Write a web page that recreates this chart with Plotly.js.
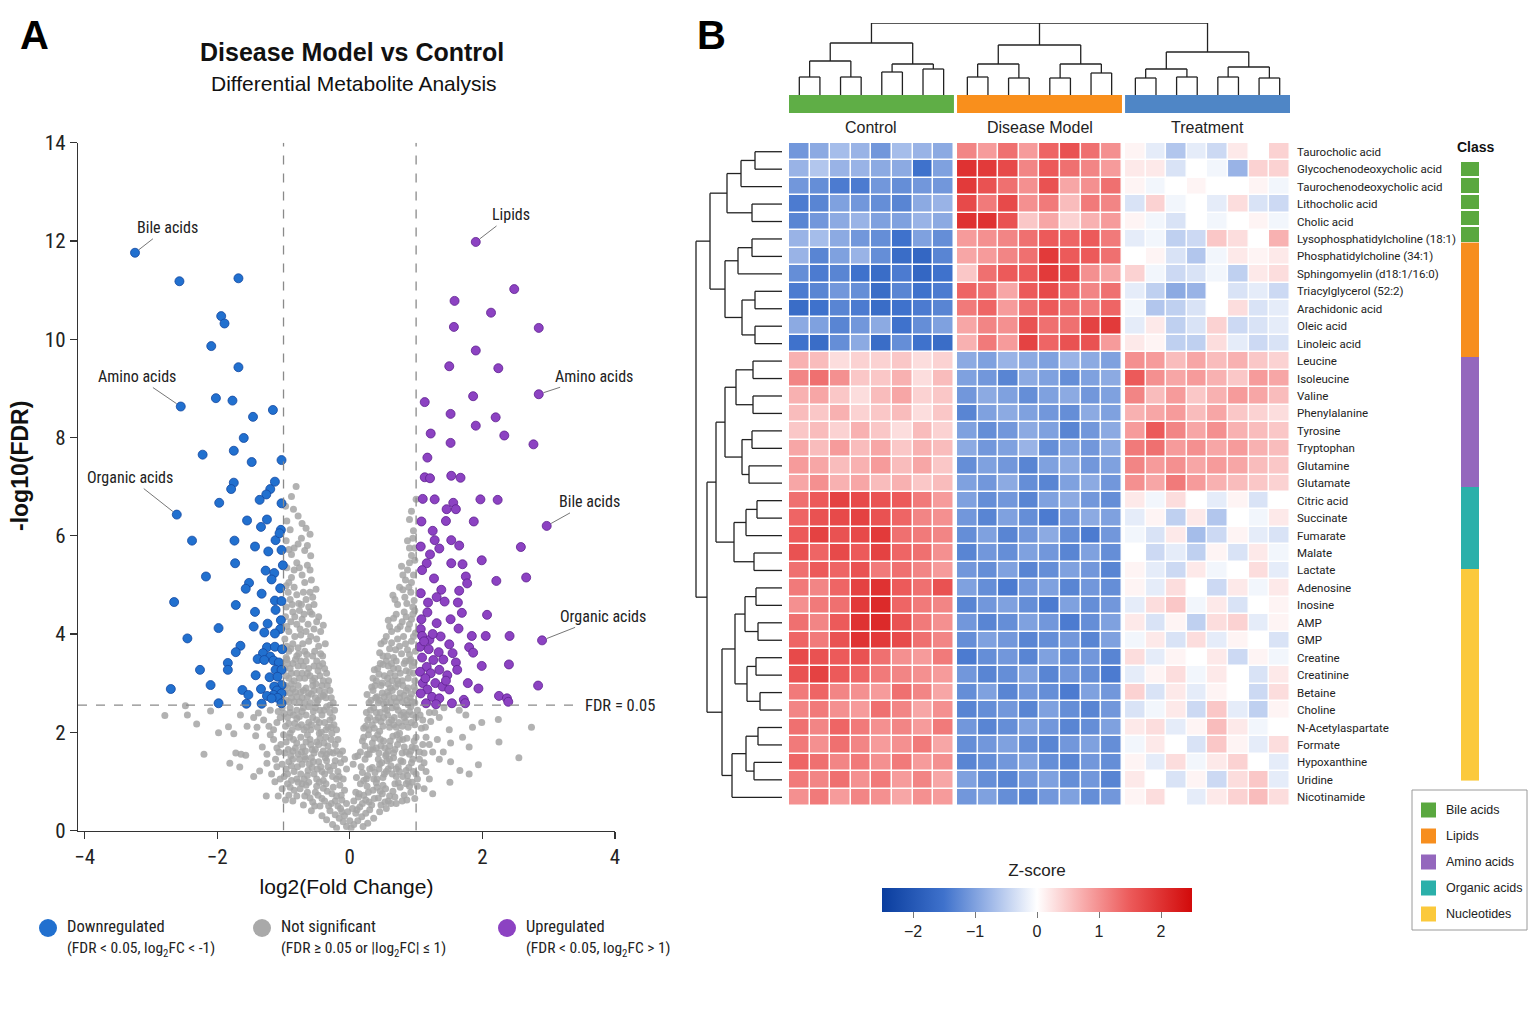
<!DOCTYPE html>
<html><head><meta charset="utf-8">
<script src="https://cdn.plot.ly/plotly-3.0.1.min.js"></script>
<style>html,body{margin:0;padding:0;background:#fff}#chart{width:1536px;height:1024px}</style>
</head><body><div id="chart"></div>
<script>
// ---------------- DATA: volcano ----------------
const downPts = [[-3.24,11.76],[-2.57,11.18],[-1.68,11.24],[-1.94,10.47],[-1.89,10.32],[-2.09,9.86],[-1.68,9.43],[-2.55,8.63],[-2.02,8.80],[-1.77,8.75],[-1.16,8.56],[-1.46,8.42],[-1.60,7.99],[-1.75,7.73],
[-2.22,7.65],[-1.48,7.50],[-1.03,7.54],[-1.13,7.10],[-1.75,7.08],[-1.79,6.95],[-1.20,6.95],[-1.26,6.84],[-1.36,6.73],[-1.97,6.67],[-1.03,6.66],[-2.61,6.43],[-1.55,6.31],[-1.25,6.33],[-1.34,6.18],[-1.04,6.12],
[-2.38,5.90],[-1.74,5.90],[-1.12,5.91],[-1.06,6.05],[-1.43,5.78],[-1.23,5.68],[-1.03,5.71],[-1.73,5.44],[-1.01,5.40],[-1.27,5.29],[-1.14,5.24],[-2.17,5.17],[-1.52,5.04],[-1.57,4.92],[-1.18,5.11],[-1.05,4.93],
[-1.33,4.82],[-2.65,4.65],[-1.72,4.59],[-1.13,4.68],[-1.03,4.67],[-1.43,4.45],[-1.12,4.49],[-1.04,4.28],[-1.24,4.21],[-1.98,4.12],[-1.45,4.15],[-1.05,4.10],[-1.29,4.03],[-1.13,4.01],[-2.45,3.91],[-1.65,3.76],
[-1.25,3.73],[-1.13,3.74],[-1.02,3.69],[-1.72,3.63],[-1.31,3.61],[-1.20,3.54],[-1.39,3.49],[-1.29,3.47],[-1.15,3.46],[-1.84,3.41],[-1.07,3.42],[-1.84,3.27],[-2.26,3.27],[-1.12,3.27],[-1.03,3.27],[-1.42,3.16],
[-1.21,3.12],[-1.09,3.13],[-2.10,2.96],[-1.03,2.96],[-1.14,2.93],[-2.70,2.88],[-1.62,2.86],[-1.34,2.88],[-1.10,2.85],[-1.15,2.76],[-1.03,2.79],[-1.53,2.76],[-1.25,2.74],[-1.09,2.70],[-1.98,2.59],[-1.56,2.58],
[-1.33,2.58],[-1.03,2.59],[-1.18,2.69]];
const upPts = [[1.90,11.98],[2.48,11.02],[1.58,10.78],[2.13,10.54],[1.57,10.25],[2.85,10.23],[1.90,9.77],[1.50,9.45],[2.24,9.41],[2.85,8.88],[1.86,8.84],[1.13,8.72],[1.52,8.48],[2.20,8.41],[1.90,8.24],[1.22,8.08],
[2.33,8.04],[1.52,7.89],[2.77,7.86],[1.17,7.59],[1.13,7.19],[1.21,7.17],[1.53,7.22],[1.67,7.18],[1.10,6.75],[1.28,6.74],[1.56,6.67],[1.97,6.74],[2.23,6.73],[1.46,6.54],[1.60,6.54],[2.97,6.20],[1.08,6.29],
[1.45,6.30],[1.87,6.29],[1.25,6.10],[2.58,5.77],[1.07,5.78],[1.28,5.91],[1.35,5.74],[1.53,5.91],[1.65,5.80],[1.21,5.62],[1.99,5.50],[1.53,5.44],[1.70,5.42],[1.16,5.44],[1.09,5.30],[2.66,5.15],[1.75,5.17],
[1.27,5.13],[2.21,5.08],[1.77,5.03],[1.38,4.90],[1.65,4.88],[1.07,4.83],[1.31,4.75],[1.18,4.64],[1.43,4.66],[1.63,4.64],[2.07,4.39],[1.69,4.43],[1.17,4.44],[1.08,4.30],[1.52,4.30],[1.31,4.22],[1.64,4.11],
[1.07,4.10],[2.90,3.87],[1.84,3.96],[2.05,3.96],[2.41,3.96],[1.37,3.95],[1.09,3.96],[1.20,3.88],[1.50,3.79],[1.80,3.73],[1.06,3.74],[1.19,3.69],[1.34,3.63],[1.55,3.61],[1.86,3.62],[1.09,3.52],[1.26,3.47],
[1.41,3.48],[1.60,3.42],[1.99,3.35],[2.40,3.38],[1.16,3.33],[1.35,3.27],[1.62,3.27],[1.06,3.23],[1.22,3.20],[1.47,3.16],[2.84,2.95],[1.78,3.00],[1.94,2.89],[1.10,3.00],[1.29,3.00],[1.40,2.93],[1.17,2.87],
[1.50,2.87],[1.07,2.79],[2.25,2.74],[2.37,2.69],[2.39,2.62],[1.24,2.72],[1.35,2.69],[1.72,2.66],[1.74,2.59],[1.54,2.59],[1.15,2.59],[1.30,2.57],[1.12,3.85],[1.25,4.00],[1.14,3.10],[1.45,3.05]];
const notSigPts = [
[-0.05,0.08],[0.02,0.05],[0.06,0.12],[-0.1,0.18],[0.12,0.2],[-0.16,0.25],[0.18,0.28],[-0.22,0.32],[0.24,0.35],[-0.3,0.4],[0.3,0.42],[-0.08,0.3],[0.09,0.35],[-0.14,0.45],[0.15,0.48],[-0.35,0.22],[0.36,0.25],[-0.42,0.3],[0.45,0.38],[-0.26,0.12],[0.27,0.15],[-0.58,0.4],[0.55,0.45],[-0.2,0.05],[0.2,0.08],[0,0.2],[-0.03,0.38],[0.04,0.45],
[-0.05,0.55],[0.06,0.6],[-0.12,0.62],[0.13,0.68],[-0.2,0.7],[0.21,0.72],[-0.28,0.55],[0.29,0.58],[-0.34,0.8],[0.35,0.82],[-0.42,0.65],[0.43,0.66],[-0.5,0.9],[0.5,0.92],[-0.56,0.58],[0.58,0.6],[-0.64,0.78],[0.65,0.8],[-0.72,0.95],[0.73,0.97],[-0.8,0.7],[0.82,0.72],[-0.9,0.88],[0.9,0.9],[-1.08,0.7],[-1.26,0.7],[1.12,0.85],[1.51,0.98],[-0.15,0.92],[0.16,0.95],[-0.25,0.88],[0.26,0.9],[-0.38,0.6],[0.4,0.97],[-0.46,0.98],[0.47,0.52],[-0.62,0.98],[0.62,0.55],[-0.08,0.82],[0.09,0.78],[-0.97,0.62],[0.98,0.65],[-1.13,0.99],[1.25,0.75],
[-0.1,1.05],[0.1,1.08],[-0.18,1.2],[0.19,1.18],[-0.26,1.1],[0.27,1.12],[-0.33,1.3],[0.34,1.28],[-0.4,1.02],[0.41,1.05],[-0.47,1.4],[0.48,1.38],[-0.54,1.15],[0.55,1.2],[-0.61,1.35],[0.62,1.32],[-0.69,1.05],[0.7,1.1],[-0.76,1.45],[0.77,1.42],[-0.84,1.2],[0.85,1.22],[-0.92,1.4],[0.93,1.38],[-0.99,1.1],[1.0,1.15],[-1.1,1.3],[1.08,1.28],[-1.25,1.37],[1.2,1.05],[-1.36,1.21],[1.35,1.45],[-1.45,1.1],[1.52,1.4],[-1.66,1.29],[1.66,1.22],[-1.81,1.37],[1.8,1.15],[1.94,1.34],[-0.22,1.42],[0.23,1.45],[-0.37,1.48],[0.44,1.25],[-0.58,1.48],[0.66,1.48],[-0.88,1.02],[0.88,1.0],[-0.05,1.25],[0.05,1.35],[-0.14,1.38],
[-0.15,1.55],[0.16,1.6],[-0.22,1.75],[0.23,1.72],[-0.3,1.6],[0.31,1.65],[-0.36,1.9],[0.37,1.88],[-0.43,1.55],[0.44,1.58],[-0.5,1.8],[0.51,1.82],[-0.57,1.65],[0.58,1.62],[-0.64,1.95],[0.65,1.92],[-0.71,1.7],[0.72,1.75],[-0.78,1.55],[0.79,1.58],[-0.85,1.85],[0.86,1.88],[-0.93,1.65],[0.94,1.7],[-1.0,1.95],[1.0,1.9],[-1.07,1.6],[1.1,1.75],[-1.25,1.55],[1.25,1.6],[-1.42,1.93],[1.41,1.6],[-1.57,1.53],[1.52,1.78],[-1.64,1.55],[1.7,1.9],[-1.72,1.58],[1.8,1.7],[-1.75,1.97],[2.25,1.8],[-1.98,1.99],[-2.2,1.55],[2.55,1.48],[-0.27,1.98],[0.28,1.95],[-0.46,1.98],[0.54,1.52],[-0.68,1.5],[0.75,1.98],[-0.9,1.98],[0.12,1.52],[-0.11,1.62],
[-0.2,2.05],[0.21,2.08],[-0.26,2.3],[0.27,2.25],[-0.33,2.1],[0.34,2.15],[-0.39,2.45],[0.4,2.4],[-0.46,2.2],[0.47,2.22],[-0.52,2.5],[0.53,2.48],[-0.59,2.05],[0.6,2.1],[-0.66,2.35],[0.67,2.3],[-0.73,2.15],[0.74,2.2],[-0.8,2.45],[0.81,2.4],[-0.87,2.05],[0.88,2.1],[-0.94,2.3],[0.95,2.35],[-1.02,2.5],[1.02,2.45],[-1.1,2.2],[1.1,2.25],[-1.2,2.45],[1.2,2.4],[-1.38,2.39],[1.35,2.3],[-1.4,2.1],[1.5,2.05],[-1.55,2.12],[1.65,2.45],[-1.83,2.11],[1.85,2.1],[-2.1,2.43],[1.99,2.2],[-2.31,2.17],[2.24,2.26],[-2.45,2.35],[2.74,2.1],[-2.48,2.54],[-2.79,2.34],[1.75,2.35],[-1.65,2.35],[-0.56,2.3],[0.57,2.35],[-0.7,2.5],[0.7,2.52],[-0.9,2.5],[0.92,2.52],[-0.3,2.4],[0.31,2.45],[-0.43,2.0],[0.45,2.02],
[-0.25,2.6],[0.26,2.77],[-0.3,2.85],[0.32,2.65],[-0.36,2.7],[0.38,2.95],[-0.42,2.95],[0.43,2.6],[-0.48,2.65],[0.49,2.8],[-0.54,2.85],[0.55,2.62],[-0.6,2.6],[0.61,2.9],[-0.66,2.9],[0.67,2.7],[-0.72,2.7],[0.73,2.98],[-0.78,2.95],[0.79,2.62],[-0.84,2.62],[0.85,2.85],[-0.9,2.8],[0.91,2.7],[-0.96,2.65],[0.97,2.92],[-0.97,2.95],[0.98,2.6],[-0.51,2.98],[0.58,2.98],[-0.88,2.98],[0.88,2.56],
[-0.32,3.05],[0.37,3.27],[-0.38,3.3],[0.4,3.05],[-0.45,3.15],[0.46,3.4],[-0.5,3.45],[0.52,3.15],[-0.56,3.05],[0.58,3.35],[-0.62,3.3],[0.64,3.05],[-0.68,3.1],[0.7,3.45],[-0.74,3.45],[0.76,3.2],[-0.8,3.2],[0.82,3.4],[-0.86,3.4],[0.88,3.1],[-0.92,3.1],[0.94,3.35],[-0.98,3.3],[0.98,3.05],[-0.95,3.48],[0.92,3.48],[-0.7,3.35],[0.66,3.3],
[-0.37,3.8],[0.47,3.8],[-0.44,3.6],[0.5,3.55],[-0.5,3.9],[0.55,3.95],[-0.56,3.55],[0.6,3.7],[-0.62,3.85],[0.66,3.52],[-0.68,3.65],[0.72,3.9],[-0.74,3.98],[0.78,3.6],[-0.8,3.55],[0.84,3.8],[-0.86,3.8],[0.9,3.58],[-0.92,3.65],[0.96,3.95],[-0.98,3.9],[0.99,3.65],[-0.96,3.52],[-0.78,3.72],
[-0.4,4.18],[0.58,4.28],[-0.47,4.35],[0.63,4.05],[-0.54,4.1],[0.7,4.4],[-0.6,4.45],[0.76,4.15],[-0.66,4.05],[0.82,4.45],[-0.72,4.3],[0.88,4.1],[-0.8,4.2],[0.93,4.3],[-0.86,4.45],[0.98,4.48],[-0.92,4.05],[-0.97,4.35],[0.99,4.02],[-0.76,4.48],
[-0.51,4.91],[0.65,4.79],[-0.56,4.75],[0.72,4.6],[-0.62,4.55],[0.8,4.9],[-0.7,4.85],[0.86,4.62],[-0.77,4.62],[0.92,4.85],[-0.84,4.95],[0.97,4.68],[-0.9,4.7],[-0.96,4.55],[-0.96,4.98],
[-0.58,5.1],[0.78,5.38],[-0.64,5.4],[0.84,5.1],[-0.72,5.2],[0.9,5.45],[-0.8,5.45],[0.96,5.2],[-0.88,5.15],[-0.95,5.35],[0.98,5.5],
[-0.59,5.59],[0.87,5.9],[-0.78,5.83],[0.93,5.6],[-0.68,5.7],[-0.88,5.62],[-0.96,5.9],[0.98,5.75],
[-0.6,6.03],[0.9,6.33],[-0.85,6.54],[1.0,6.74],[-0.81,7.0],[-0.72,6.25],[-0.95,6.3],[0.96,6.1],
[-0.32,0.5],[0.33,0.52],[-0.48,0.72],[0.49,0.75],[-0.6,0.66],[0.6,0.7],[-0.7,0.52],[0.7,0.55],[-0.75,0.85],[0.76,0.88],[-0.86,0.6],[0.86,0.62],[-0.94,0.95],[0.94,0.98],[-0.18,0.5],[0.19,0.55],[-0.4,0.86],[0.41,0.88],[-0.53,0.5],[0.53,0.58],[-0.66,0.92],[0.68,0.95],[-0.22,0.6],[0.24,0.62],[-0.12,0.38],[0.11,0.42],
[-0.2,1.05],[0.21,1.02],[-0.3,1.22],[0.3,1.25],[-0.38,1.15],[0.38,1.18],[-0.44,1.3],[0.45,1.35],[-0.5,1.05],[0.5,1.08],[-0.57,1.28],[0.58,1.25],[-0.64,1.12],[0.64,1.15],[-0.72,1.35],[0.73,1.3],[-0.8,1.05],[0.8,1.1],[-0.88,1.32],[0.89,1.28],[-0.96,1.25],[0.96,1.2],[-1.05,1.05],[1.05,1.45],[-1.18,1.15],[1.15,1.2],[-0.25,1.58],[0.26,1.55],[-0.33,1.72],[0.34,1.78],[-0.4,1.62],[0.4,1.68],[-0.47,1.75],[0.47,1.72],[-0.54,1.58],[0.55,1.55],[-0.6,1.85],[0.61,1.82],[-0.67,1.62],[0.68,1.65],[-0.74,1.9],[0.75,1.85],[-0.82,1.68],[0.82,1.7],[-0.89,1.52],[0.9,1.55],[-0.96,1.8],[0.97,1.82],[-1.04,1.75],[1.05,1.6],[-1.15,1.85],[1.15,1.9],[-0.18,1.85],[0.19,1.82],[-0.08,1.45],[0.08,1.5],
[-0.24,2.15],[0.24,2.12],[-0.3,2.25],[0.3,2.3],[-0.36,2.05],[0.37,2.08],[-0.42,2.35],[0.43,2.3],[-0.49,2.1],[0.5,2.12],[-0.55,2.42],[0.56,2.45],[-0.62,2.2],[0.63,2.25],[-0.69,2.05],[0.7,2.1],[-0.76,2.32],[0.77,2.35],[-0.83,2.18],[0.84,2.22],[-0.9,2.4],[0.9,2.42],[-0.97,2.12],[0.98,2.15],[-1.05,2.3],[1.06,2.35],[-1.15,2.05],[1.14,2.1],[-1.3,2.25],[1.28,2.4],[-0.35,2.52],[0.36,2.5],[-0.62,2.52],[0.64,2.5],[-0.8,2.28],[0.82,2.3],
[-0.28,2.7],[0.29,2.6],[-0.34,2.95],[0.35,2.85],[-0.4,2.75],[0.41,2.72],[-0.46,2.85],[0.47,2.95],[-0.52,2.7],[0.52,2.72],[-0.58,2.78],[0.59,2.75],[-0.64,2.72],[0.64,2.85],[-0.7,2.85],[0.7,2.62],[-0.76,2.62],[0.76,2.8],[-0.82,2.82],[0.82,2.75],[-0.88,2.7],[0.88,2.9],[-0.94,2.9],[0.94,2.62],
[-0.35,3.2],[0.35,3.1],[-0.41,3.4],[0.42,3.3],[-0.48,3.25],[0.49,3.0],[-0.54,3.35],[0.55,3.45],[-0.6,3.15],[0.61,3.2],[-0.66,3.45],[0.68,3.15],[-0.72,3.2],[0.73,3.3],[-0.78,3.35],[0.79,3.05],[-0.84,3.05],[0.85,3.25],[-0.9,3.3],[0.9,3.45],[-0.96,3.15],[0.96,3.2],
[-0.41,3.55],[0.45,3.62],[-0.47,3.75],[0.52,3.85],[-0.53,3.65],[0.57,3.55],[-0.59,3.95],[0.63,3.82],[-0.65,3.58],[0.69,3.68],[-0.71,3.8],[0.75,3.75],[-0.77,3.6],[0.81,3.95],[-0.83,3.95],[0.87,3.68],[-0.89,3.7],[0.93,3.85],[-0.95,3.75],
[-0.44,4.05],[0.6,4.15],[-0.5,4.25],[0.66,4.32],[-0.57,4.4],[0.72,4.1],[-0.63,4.2],[0.79,4.25],[-0.69,4.4],[0.85,4.35],[-0.75,4.1],[0.9,4.2],[-0.83,4.35],[0.95,4.4],[-0.89,4.25],[-0.95,4.15],
[-0.54,4.6],[0.68,4.7],[-0.6,4.85],[0.75,4.95],[-0.66,4.7],[0.83,4.75],[-0.73,4.6],[0.89,4.95],[-0.8,4.8],[0.95,4.55],[-0.87,4.6],[-0.93,4.85],
[-0.6,5.3],[0.8,5.2],[-0.68,5.05],[0.87,5.3],[-0.76,5.35],[0.93,5.05],[-0.84,5.3],[-0.92,5.05],[-0.64,5.8],[0.9,5.75],[-0.73,5.95],[-0.84,5.75],[-0.92,5.72],[0.95,5.95],[-0.66,6.15],[-0.78,6.4],[-0.9,6.12],[0.93,6.5],[-0.88,6.8],[-0.97,6.6],
[-0.13,0.72],[0.14,0.75],[-0.27,0.75],[0.28,0.78],[-0.36,0.95],[0.37,0.65],[-0.45,0.5],[0.46,0.8],[-0.52,0.78],[0.54,0.85],[-0.68,0.7],[0.68,0.68],[-0.78,0.98],[0.79,0.6],[-0.84,0.82],[0.85,0.95],[-0.92,0.72],[0.92,0.78],[-1.02,0.85],[1.02,0.9],
[-0.16,1.1],[0.17,1.3],[-0.24,1.32],[0.25,1.05],[-0.35,1.42],[0.36,1.05],[-0.42,1.2],[0.43,1.45],[-0.49,1.25],[0.52,1.15],[-0.55,1.4],[0.56,1.42],[-0.63,1.22],[0.6,1.45],[-0.67,1.45],[0.7,1.25],[-0.74,1.15],[0.75,1.2],[-0.79,1.3],[0.8,1.4],[-0.86,1.45],[0.87,1.12],[-0.94,1.15],[0.95,1.45],[-1.02,1.35],[1.02,1.05],[-1.12,1.45],[1.12,1.38],
[-0.2,1.62],[0.21,1.9],[-0.28,1.85],[0.29,1.55],[-0.35,1.55],[0.35,1.65],[-0.39,1.78],[0.42,1.95],[-0.45,1.88],[0.46,1.85],[-0.52,1.65],[0.53,1.68],[-0.59,1.75],[0.6,1.72],[-0.66,1.8],[0.66,1.58],[-0.73,1.6],[0.71,1.95],[-0.8,1.78],[0.8,1.85],[-0.86,1.62],[0.85,1.6],[-0.91,1.9],[0.92,1.62],[-0.98,1.58],[0.99,1.68],[-1.1,1.68],[1.12,1.58],[-1.2,1.95],[1.2,1.75],[-1.32,1.7],[1.32,1.85],
[-0.23,2.45],[0.25,2.4],[-0.28,2.1],[0.29,2.05],[-0.38,2.2],[0.39,2.25],[-0.45,2.45],[0.46,2.4],[-0.5,2.25],[0.51,2.3],[-0.58,2.15],[0.59,2.2],[-0.65,2.1],[0.66,2.15],[-0.72,2.42],[0.73,2.45],[-0.78,2.1],[0.79,2.12],[-0.85,2.35],[0.86,2.35],[-0.92,2.18],[0.93,2.2],[-0.99,2.38],[1.0,2.3],[-1.08,2.42],[1.08,2.08],[-1.22,2.12],[1.22,2.22],[-1.45,2.3],[1.42,2.5],
[-0.3,2.55],[0.33,2.92],[-0.38,2.82],[0.39,2.7],[-0.44,2.72],[0.45,2.65],[-0.5,2.6],[0.51,2.58],[-0.56,2.95],[0.57,2.82],[-0.62,2.8],[0.62,2.62],[-0.68,2.6],[0.69,2.92],[-0.74,2.82],[0.75,2.7],[-0.8,2.72],[0.8,2.95],[-0.86,2.88],[0.86,2.65],[-0.92,2.62],[0.93,2.78],[-0.98,2.8],[0.99,2.85],
[-0.4,3.05],[0.44,3.18],[-0.46,3.35],[0.5,3.38],[-0.53,3.1],[0.57,3.1],[-0.64,3.2],[0.63,3.4],[-0.76,3.1],[0.72,3.05],[-0.82,3.48],[0.84,3.45],[-0.88,3.2],[0.9,3.22],[-0.94,3.4],[0.97,3.42]];
const fcThreshold = 1;
const fdrLineY = 2.55;
// callouts: label text and the labelled point
const calloutText = ['Bile acids','Amino acids','Organic acids','Lipids','Amino acids','Bile acids','Organic acids'];
const calloutX = [-3.24,-2.55,-2.61,1.90,2.85,2.97,2.90];
const calloutY = [11.76,8.63,6.43,11.98,8.88,6.20,3.87];

// ---------------- DATA: heatmap ----------------
const metabolites = ['Taurocholic acid','Glycochenodeoxycholic acid','Taurochenodeoxycholic acid','Lithocholic acid','Cholic acid',
'Lysophosphatidylcholine (18:1)','Phosphatidylcholine (34:1)','Sphingomyelin (d18:1/16:0)','Triacylglycerol (52:2)','Arachidonic acid','Oleic acid','Linoleic acid',
'Leucine','Isoleucine','Valine','Phenylalanine','Tyrosine','Tryptophan','Glutamine','Glutamate',
'Citric acid','Succinate','Fumarate','Malate','Lactate',
'Adenosine','Inosine','AMP','GMP','Creatine','Creatinine','Betaine','Choline','N-Acetylaspartate','Formate','Hypoxanthine','Uridine','Nicotinamide'];
const groups = ['Control','Disease Model','Treatment'];
const groupColors = ['#5fae46','#f98f1c','#4f86c6'];
const classNames = ['Bile acids','Lipids','Amino acids','Organic acids','Nucleotides'];
const classColors = ['#5aa83f','#f78e1e','#9467bd','#2bb0aa','#fbc93b'];
const classCounts = [5,7,8,5,13];

const zControl = [
[-1.1,-0.9,-0.7,-0.8,-1.1,-0.7,-0.8,-0.9],[-0.8,-0.6,-0.8,-0.8,-0.9,-0.9,-1.5,-1.0],[-1.1,-1.2,-1.4,-1.4,-1.1,-1.2,-1.1,-1.1],[-1.4,-1.3,-1.0,-1.1,-1.2,-1.3,-0.9,-0.8],[-1.3,-1.1,-0.9,-0.8,-1.0,-1.0,-0.8,-0.9],
[-0.8,-0.7,-0.9,-1.1,-1.2,-1.5,-1.0,-1.2],[-0.8,-1.3,-1.0,-0.8,-1.2,-1.6,-1.7,-1.3],[-1.2,-1.4,-1.3,-1.5,-1.6,-1.4,-1.7,-1.5],[-1.4,-1.3,-1.1,-1.2,-1.6,-1.3,-1.5,-1.4],[-1.6,-1.5,-1.3,-1.4,-1.6,-1.5,-1.4,-1.3],[-0.9,-1.0,-1.3,-1.1,-0.9,-1.5,-1.2,-1.0],[-1.5,-1.6,-1.2,-0.9,-1.6,-1.2,-1.5,-1.6],
[0.7,0.6,0.3,0.4,0.4,0.5,0.3,0.4],[1.1,1.3,1.0,0.5,0.5,0.7,0.3,0.6],[0.7,0.8,0.5,0.3,0.6,0.8,0.4,0.5],[0.6,0.5,0.7,0.4,0.5,0.6,0.3,0.5],[0.5,0.6,0.4,0.7,0.5,0.3,0.6,0.4],[0.8,0.6,0.9,0.6,0.8,0.5,0.7,0.6],[0.9,0.8,0.6,0.7,0.9,0.6,0.8,0.5],[0.8,1.0,0.7,0.8,0.6,0.7,0.5,0.6],
[1.3,1.5,1.8,1.7,1.6,1.5,1.2,0.9],[1.4,1.6,1.7,1.8,1.6,1.4,1.1,1.0],[1.5,1.8,1.6,1.7,1.9,1.3,1.2,1.1],[1.6,1.4,1.7,1.5,1.8,1.4,1.3,1.0],[1.3,1.5,1.4,1.6,1.2,1.3,1.1,0.9],
[1.2,1.1,1.4,1.8,2.0,1.5,1.3,1.6],[1.0,1.2,1.3,1.9,2.1,1.4,1.2,1.1],[1.3,1.1,1.5,2.0,2.1,1.6,1.2,1.0],[1.4,1.2,1.6,2.0,1.9,1.7,1.3,1.1],[1.7,1.6,1.5,1.6,1.3,1.0,0.9,1.2],[1.6,1.8,1.5,1.4,1.2,1.1,1.0,0.9],[1.2,1.4,1.1,1.0,0.9,1.3,1.1,0.8],[1.1,1.2,1.0,0.9,1.3,1.1,0.8,1.0],[1.3,1.1,1.4,1.2,1.0,1.1,0.9,1.2],[1.2,1.0,1.3,1.1,0.9,1.0,1.2,0.8],[1.4,1.3,1.1,1.2,1.0,1.2,0.9,1.0],[1.2,1.1,1.3,1.0,1.2,0.9,1.1,0.8],[1.0,1.2,0.9,1.1,1.0,0.8,1.0,0.9]];
const zDisease = [
[1.1,0.9,1.3,0.9,1.4,1.6,1.3,1.0],[2.0,1.9,1.7,1.1,1.5,1.3,1.1,0.9],[1.9,1.6,1.3,1.0,1.6,0.8,1.0,1.3],[1.7,1.2,1.7,1.0,1.2,0.6,1.2,1.1],[2.0,2.0,1.6,0.5,0.8,0.4,0.7,0.9],
[0.9,1.0,1.1,1.3,1.5,1.4,1.5,1.2],[0.8,0.9,1.1,1.3,1.9,1.5,1.5,1.3],[0.5,1.3,1.5,1.5,1.9,1.7,1.0,0.8],[1.4,1.3,0.8,1.5,1.7,1.4,1.1,1.3],[1.2,1.4,0.9,1.3,1.5,1.3,1.2,1.4],[0.8,1.1,1.0,1.6,1.3,1.3,1.8,1.9],[0.7,1.2,0.9,1.8,1.4,1.6,1.6,0.9],
[-0.9,-1.0,-0.8,-0.9,-1.0,-0.8,-0.9,-1.0],[-1.0,-1.1,-1.3,-0.9,-1.0,-1.2,-1.0,-0.9],[-1.1,-0.9,-1.0,-1.2,-1.0,-0.9,-1.1,-1.0],[-1.3,-1.0,-0.9,-1.0,-1.1,-1.2,-0.9,-1.0],[-1.0,-1.2,-1.1,-0.9,-1.0,-1.3,-1.1,-0.9],[-0.9,-1.1,-1.0,-0.8,-1.2,-1.0,-1.1,-0.9],[-1.2,-1.0,-1.1,-1.3,-1.0,-0.9,-1.1,-1.0],[-1.0,-1.1,-0.9,-1.2,-1.3,-1.0,-0.9,-1.1],
[-1.0,-1.2,-1.1,-1.3,-1.0,-0.9,-1.1,-1.2],[-1.1,-1.3,-1.0,-1.2,-1.4,-1.1,-0.9,-1.0],[-1.2,-1.0,-1.3,-1.1,-0.9,-1.2,-1.4,-1.1],[-1.3,-1.1,-1.2,-1.0,-1.1,-1.3,-1.0,-1.2],[-1.1,-1.2,-1.0,-1.3,-1.2,-1.0,-1.1,-1.3],
[-1.0,-1.2,-1.4,-1.1,-1.0,-1.3,-1.1,-1.2],[-1.3,-1.1,-1.0,-1.2,-1.4,-1.0,-1.2,-1.1],[-1.1,-1.3,-1.2,-1.0,-1.1,-1.4,-1.2,-1.0],[-1.2,-1.0,-1.1,-1.3,-1.2,-1.1,-1.3,-1.0],[-1.4,-1.2,-1.1,-1.3,-1.0,-1.2,-1.1,-1.3],[-1.1,-1.3,-1.2,-1.0,-1.3,-1.1,-1.2,-1.4],[-1.2,-1.0,-1.3,-1.1,-1.2,-1.4,-1.0,-1.1],[-1.3,-1.2,-1.1,-1.3,-1.0,-1.2,-1.3,-1.1],[-1.1,-1.3,-1.2,-1.0,-1.1,-1.3,-1.2,-1.0],[-1.2,-1.1,-1.0,-1.2,-1.3,-1.1,-1.0,-1.2],[-1.3,-1.2,-1.1,-1.0,-1.2,-1.3,-1.1,-1.2],[-1.0,-1.2,-1.3,-1.1,-1.0,-1.2,-1.1,-1.3],[-1.1,-1.0,-1.2,-1.3,-1.1,-1.0,-1.2,-1.1]];
const zTreatment = [
[0.1,-0.2,-0.6,-0.2,-0.4,0.2,0.0,0.4],[0.2,0.2,-0.3,0.0,-0.1,-0.8,0.4,0.4],[0.1,-0.1,0.0,0.1,0.0,0.0,0.1,-0.1],[-0.3,0.4,-0.1,0.0,-0.2,0.3,-0.3,-0.4],[0.1,-0.1,-0.3,0.0,-0.1,0.0,0.1,-0.1],
[-0.2,-0.1,-0.5,-0.4,0.5,0.3,0.0,0.7],[0.0,0.1,-0.3,-0.6,-0.1,0.2,0.1,0.2],[0.4,-0.1,-0.4,-0.3,-0.1,-0.5,0.2,0.3],[-0.2,-0.5,-0.9,-0.8,0.0,-0.3,-0.2,-0.4],[-0.1,-0.6,-0.5,-0.3,0.0,0.3,-0.3,-0.2],[-0.2,0.2,-0.5,-0.3,0.4,-0.4,-0.3,-0.2],[0.2,0.1,-0.5,-0.5,0.3,-0.2,-0.4,-0.3],
[1.0,0.9,0.6,0.8,0.6,0.7,0.5,0.4],[1.5,1.0,0.8,0.9,0.7,0.5,0.9,0.8],[1.1,0.6,0.9,0.5,0.7,0.9,0.8,0.6],[0.7,0.8,0.9,0.6,0.8,0.5,0.4,0.3],[0.9,1.5,1.1,0.8,1.0,0.7,0.6,0.5],[1.2,1.3,0.9,1.0,0.8,0.9,0.7,0.6],[1.1,0.9,1.0,0.8,0.9,0.8,0.6,0.5],[1.0,0.8,1.2,0.9,0.7,0.6,0.5,0.4],
[0.2,-0.1,0.3,0.0,-0.2,0.1,-0.3,0.0],[-0.2,0.1,-0.5,0.2,-0.6,0.0,-0.1,0.2],[-0.1,-0.3,0.2,-0.7,-0.4,0.1,-0.2,-0.3],[0.0,-0.4,-0.2,-0.5,0.1,-0.3,0.2,-0.1],[0.1,-0.2,-0.4,0.2,-0.1,0.0,0.3,-0.2],
[0.1,-0.2,0.3,0.0,-0.4,0.2,-0.1,0.2],[-0.2,0.3,0.5,-0.1,0.2,-0.3,0.0,0.1],[0.2,-0.3,0.1,-0.5,0.3,0.4,-0.2,0.1],[-0.1,0.2,-0.3,0.3,-0.2,0.1,0.0,-0.3],[0.3,-0.2,0.1,0.0,0.2,-0.4,0.1,-0.1],[-0.2,0.1,0.3,-0.1,0.2,0.0,-0.3,0.2],[0.4,-0.3,0.2,-0.2,0.1,0.0,-0.4,0.3],[-0.3,-0.1,0.2,-0.4,0.5,-0.2,-0.5,0.1],[0.2,0.3,-0.2,0.1,0.6,0.2,-0.1,0.0],[-0.1,0.2,0.0,-0.3,0.5,0.1,-0.2,0.3],[0.1,-0.2,0.3,-0.1,0.2,0.4,0.0,-0.2],[0.2,0.0,-0.3,0.1,-0.4,0.3,0.5,-0.2],[0.1,0.3,0.0,-0.2,0.2,0.4,0.6,0.3]];

// dendrogram trees: [mergeHeight, child, child, ...]; leaves are indices
const colTree = [72,
  [52,[34,[18,0,1],[18,2,3]],[31,[23,4,5],[26,6,7]]],
  [50,[31,[18,8,9],[17,10,11]],[31,[17,12,13],[22,14,15]]],
  [43,[26,[17,16,17],[18,18,19]],[28,[18,20,21],[17,22,23]]]];
const rowTree = [86,
  [72,[55,[41,[27,0,1],2],[30,3,4]],[57,[44,[30,5,6],7],[40,[27,8,9],[27,10,11]]]],
  [75,[66,[57,[46,[29,12,13],[29,14,15]],[40,[30,16,17],[33,18,19]]],[48,[36,[25,20,21],22],[28,23,24]]],
      [60,[47,[37,[26,25,26],[24,27,28]],[35,[26,29,30],[22,31,32]]],[50,[36,[24,33,34],[28,35,36]],37]]]];

// ---------------- helpers ----------------
const W = 1536, H = 1024;
const PX = v => v / W, PY = v => 1 - v / H;
const groupStride = 8.15;
const nCols = 24;
const colPos = Array.from({length: nCols}, (_, i) => Math.floor(i / 8) * groupStride + (i % 8));
const rowIdx = metabolites.map((_, i) => i);

function buildTree(node, leafPos, A, B) {
  if (typeof node === 'number') return {p: leafPos[node], h: 0};
  const h = node[0];
  const kids = node.slice(1).map(k => buildTree(k, leafPos, A, B));
  kids.forEach(k => { A.push(k.p, k.p, null); B.push(k.h, h, null); });
  const p0 = kids[0].p, p1 = kids[kids.length - 1].p;
  A.push(p0, p1, null); B.push(h, h, null);
  return {p: (p0 + p1) / 2, h};
}
const colA = [], colB = [];
buildTree(colTree, colPos, colA, colB);
const rowA = [], rowB = [];
buildTree(rowTree, rowIdx, rowA, rowB);

const FONT = "'Liberation Sans', Arial, sans-serif";
const NARROW = "'Liberation Sans Narrow', 'Roboto Condensed', 'Liberation Sans', Arial, sans-serif";
const zScale = [[0,'#0a3d9e'],[0.2,'#3f72cc'],[0.35,'#9fb8e8'],[0.5,'#ffffff'],[0.65,'#f8abab'],[0.8,'#ec5a5a'],[1,'#d20a0a']];

const traces = [];
// volcano
traces.push({type:'scatter', mode:'markers', x: notSigPts.map(p=>p[0]), y: notSigPts.map(p=>p[1]), xaxis:'x', yaxis:'y',
  marker:{size:7, color:'rgba(165,165,165,0.85)', line:{width:0}}, showlegend:false, hoverinfo:'skip'});
traces.push({type:'scatter', mode:'markers', x: downPts.map(p=>p[0]), y: downPts.map(p=>p[1]), xaxis:'x', yaxis:'y',
  marker:{size:9, color:'#2170cf', line:{width:0.8, color:'#1447a0'}}, showlegend:false});
traces.push({type:'scatter', mode:'markers', x: upPts.map(p=>p[0]), y: upPts.map(p=>p[1]), xaxis:'x', yaxis:'y',
  marker:{size:9, color:'#8c42c2', line:{width:0.8, color:'#5e1f8f'}}, showlegend:false});

// heatmap (three groups)
[zControl, zDisease, zTreatment].forEach((z, g) => {
  traces.push({type:'heatmap', x: colPos.slice(g*8, g*8+8), y: rowIdx, z: z, xaxis:'x2', yaxis:'y2',
    colorscale: zScale, zmin:-2.5, zmax:2.5, xgap:1.5, ygap:1.5, showscale: g === 0, hoverinfo:'z',
    colorbar: {orientation:'h', x: PX(1037), xanchor:'center', y: PY(869), yanchor:'top', ypad:0, xpad:0,
      len:310, lenmode:'pixels', thickness:24, thicknessmode:'pixels', outlinewidth:0,
      ticks:'outside', ticklen:6, tickcolor:'#777', tickvals:[-2,-1,0,1,2],
      tickfont:{family:FONT, size:16, color:'#222'},
      title:{text:'Z-score', side:'top', font:{family:FONT, size:17, color:'#222'}}}});
});

// class bar
const rowClass = [];
classCounts.forEach((c, k) => { for (let i = 0; i < c; i++) rowClass.push(k); });
const classScale = [];
classColors.forEach((c, k) => { classScale.push([k/5, c], [(k+1)/5, c]); });
const bileRows = rowIdx.filter(i => rowClass[i] === 0);
const otherRows = rowIdx.filter(i => rowClass[i] !== 0);
traces.push({type:'heatmap', x:[0], y: bileRows, z: bileRows.map(i => [rowClass[i] + 0.5]), xaxis:'x3', yaxis:'y3',
  colorscale: classScale, zmin:0, zmax:5, showscale:false, ygap:2, hoverinfo:'skip'});
traces.push({type:'heatmap', x:[0], y: otherRows, z: otherRows.map(i => [rowClass[i] + 0.5]), xaxis:'x3', yaxis:'y3',
  colorscale: classScale, zmin:0, zmax:5, showscale:false, hoverinfo:'skip'});

// dendrograms
traces.push({type:'scatter', mode:'lines', x: colA, y: colB, xaxis:'x2', yaxis:'y4',
  line:{color:'#222', width:1.3}, showlegend:false, hoverinfo:'skip'});
traces.push({type:'scatter', mode:'lines', x: rowB, y: rowA, xaxis:'x5', yaxis:'y2',
  line:{color:'#222', width:1.3}, showlegend:false, hoverinfo:'skip'});

// ---------------- layout ----------------
const shapes = [];
const annotations = [];
const ann = o => annotations.push(Object.assign({showarrow:false, xanchor:'center', yanchor:'middle'}, o));
// threshold lines
[-fcThreshold, fcThreshold].forEach(v => shapes.push({type:'line', xref:'x', yref:'y', x0:v, x1:v, y0:0, y1:14,
  line:{color:'#8a8a8a', width:1.3, dash:'dash'}}));
shapes.push({type:'line', xref:'x', yref:'y', x0:-4.1, x1:3.45, y0:fdrLineY, y1:fdrLineY, line:{color:'#8a8a8a', width:1.3, dash:'dash'}});
ann({xref:'x', yref:'y', x:3.52, y:fdrLineY, text:'FDR = 0.05', xanchor:'left', font:{family:NARROW, size:16.5, color:'#222'}});
// callouts
const calloutOffsets = [[32,-25],[-44,-30],[-47,-37],[35,-27],[55,-18],[43,-24],[61,-24]];
calloutText.forEach((t, i) => annotations.push({xref:'x', yref:'y', x: calloutX[i], y: calloutY[i], text: t,
  showarrow:true, arrowhead:0, arrowwidth:0.9, arrowcolor:'#666', ax: calloutOffsets[i][0], ay: calloutOffsets[i][1],
  standoff:5, startstandoff:0, font:{family:NARROW, size:16, color:'#222'}}));

// panel labels and titles
ann({xref:'paper', yref:'paper', x:PX(34), y:PY(35), text:'<b>A</b>', font:{family:FONT, size:40, color:'#000'}});
ann({xref:'paper', yref:'paper', x:PX(711), y:PY(35), text:'<b>B</b>', font:{family:FONT, size:40, color:'#000'}});
ann({xref:'paper', yref:'paper', x:PX(352), y:PY(52), text:'<b>Disease Model vs Control</b>', font:{family:FONT, size:25, color:'#111'}});
ann({xref:'paper', yref:'paper', x:PX(354), y:PY(83), text:'Differential Metabolite Analysis', font:{family:FONT, size:21, color:'#111'}});
// y-axis title of the volcano plot
ann({xref:'paper', yref:'paper', x:PX(20), y:PY(466), textangle:-90, text:'<b>-log10(FDR)</b>', font:{family:FONT, size:23, color:'#111'}});

// volcano legend
const volLegend = [
  {c:'#2170cf', x:48, t:'Downregulated<br><span style="font-size:15.5px">(FDR &lt; 0.05, log<sub>2</sub>FC &lt; -1)</span>'},
  {c:'#a9a9a9', x:262, t:'Not significant<br><span style="font-size:15.5px">(FDR ≥ 0.05 or |log<sub>2</sub>FC| ≤ 1)</span>'},
  {c:'#8c42c2', x:507, t:'Upregulated<br><span style="font-size:15.5px">(FDR &lt; 0.05, log<sub>2</sub>FC &gt; 1)</span>'}];
volLegend.forEach(L => {
  shapes.push({type:'circle', xref:'paper', yref:'paper', xsizemode:'pixel', ysizemode:'pixel', xanchor:PX(L.x), yanchor:PY(928),
    x0:-9, x1:9, y0:-9, y1:9, fillcolor:L.c, line:{width:0}});
  ann({xref:'paper', yref:'paper', x:PX(L.x+17), y:PY(938), xanchor:'left', align:'left',
    text:L.t, font:{family:NARROW, size:16.5, color:'#222'}});
});

// group bars + labels
groups.forEach((gname, g) => {
  shapes.push({type:'rect', xref:'x2', yref:'paper', x0: g*groupStride - 0.5, x1: g*groupStride + 7.5, y0:PY(113), y1:PY(95),
    fillcolor: groupColors[g], line:{width:0}});
  ann({xref:'x2', yref:'paper', x: g*groupStride + 3.5, y: PY(127), text: gname, font:{family:FONT, size:16, color:'#222'}});
});

// class title and legend
ann({xref:'paper', yref:'paper', x:PX(1476), y:PY(147), text:'<b>Class</b>', font:{family:FONT, size:14, color:'#111'}});
shapes.push({type:'rect', xref:'paper', yref:'paper', x0:PX(1412), x1:PX(1527), y0:PY(930), y1:PY(790), line:{color:'#9a9a9a', width:1}, fillcolor:'#fff'});
classNames.forEach((n, k) => {
  const yc = 810 + k * 26;
  shapes.push({type:'rect', xref:'paper', yref:'paper', x0:PX(1421), x1:PX(1436), y0:PY(yc+7.5), y1:PY(yc-7.5), fillcolor:classColors[k], line:{width:0}});
  ann({xref:'paper', yref:'paper', x:PX(1444), y:PY(yc), xanchor:'left', text:n, font:{family:FONT, size:12.5, color:'#222'}});
});

const layout = {
  width: W, height: H, margin:{l:0, r:0, t:0, b:0}, paper_bgcolor:'#fff', plot_bgcolor:'rgba(0,0,0,0)',
  showlegend:false, font:{family:FONT, color:'#222'},
  xaxis: {domain:[PX(78), PX(615)], range:[-4.1, 4], anchor:'y', showgrid:false, zeroline:false,
    showline:true, linecolor:'#333', linewidth:1.3, ticks:'outside', ticklen:7, tickwidth:1.3, tickcolor:'#333',
    tickvals:[-4,-2,0,2,4], tickfont:{family:NARROW, size:21, color:'#222'},
    title:{text:'log2(Fold Change)', font:{family:FONT, size:21, color:'#111'}, standoff:11}},
  yaxis: {domain:[PY(830.5), PY(142.7)], range:[0, 14], anchor:'x', showgrid:false, zeroline:false,
    showline:true, linecolor:'#333', linewidth:1.3, ticks:'outside', ticklen:7, tickwidth:1.3, tickcolor:'#333',
    tickvals:[0,2,4,6,8,10,12,14], tickfont:{family:NARROW, size:21, color:'#222'}},
  xaxis2: {domain:[PX(789), PX(1290)], range:[-0.5, 2*groupStride + 7.5], anchor:'y2', visible:false, fixedrange:true},
  yaxis2: {domain:[PY(806), PY(143)], range:[37.5, -0.5], anchor:'x2', side:'right', showgrid:false, zeroline:false,
    showline:false, ticks:'', tickvals: rowIdx, ticktext: metabolites, ticklabelstandoff:6,
    tickfont:{family:"Roboto, 'Liberation Sans', sans-serif", size:11.5, color:'#222'}},
  xaxis3: {domain:[PX(1461), PX(1479)], range:[-0.5, 0.5], anchor:'y3', visible:false},
  yaxis3: {domain:[PY(781), PY(161)], range:[37.5, -0.5], anchor:'x3', visible:false},
  yaxis4: {domain:[PY(95), PY(23)], range:[0, 72], anchor:'x2', visible:false},
  xaxis5: {domain:[PX(690), PX(782)], range:[92, 0], anchor:'y2', visible:false},
  shapes, annotations
};
Plotly.newPlot('chart', traces, layout, {displayModeBar:false, staticPlot:true});
</script></body></html>
